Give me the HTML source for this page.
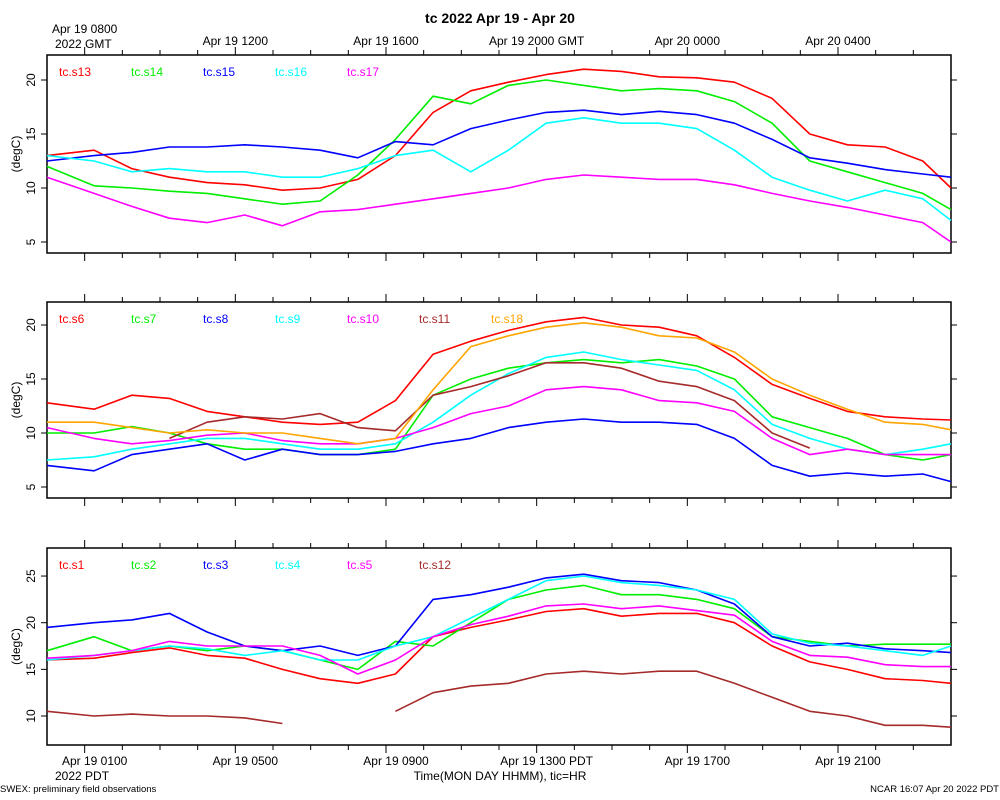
<!DOCTYPE html>
<html><head><meta charset="utf-8"><style>
body{margin:0;background:#fff;}
svg{display:block;font-family:"Liberation Sans",sans-serif;}
</style></head><body>
<svg id="chart" width="1000" height="800" viewBox="0 0 1000 800">
<text x="500" y="23" text-anchor="middle" font-size="14" font-weight="bold">tc 2022 Apr 19 - Apr 20</text>
<text x="0" y="792" font-size="9.5">SWEX: preliminary field observations</text>
<text x="999" y="792" font-size="9.5" text-anchor="end">NCAR 16:07 Apr 20 2022 PDT</text>
<text x="500" y="780" font-size="12" text-anchor="middle">Time(MON DAY HHMM), tic=HR</text>
<text x="55" y="780" font-size="12">2022 PDT</text>
<text x="55" y="48" font-size="12">2022 GMT</text>
</svg>
<script>
const T = [0,1.25,2.25,3.25,4.25,5.25,6.25,7.25,8.25,9.25,10.25,11.25,12.25,13.25,14.25,15.25,16.25,17.25,18.25,19.25,20.25,21.25,22.25,23.25,24];
const topLabels = ["Apr 19 0800","Apr 19 1200","Apr 19 1600","Apr 19 2000 GMT","Apr 20 0000","Apr 20 0400"];
const bottomLabels = ["Apr 19 0100","Apr 19 0500","Apr 19 0900","Apr 19 1300 PDT","Apr 19 1700","Apr 19 2100"];
const labelHours = [1,5,9,13,17,21];
// panel 1
const s13 = [13,13.5,11.8,11,10.5,10.3,9.8,10,10.8,13,17,19,19.8,20.5,21,20.8,20.3,20.2,19.8,18.3,15,14,13.8,12.5,10];
const s14 = [12,10.2,10,9.7,9.5,9,8.5,8.8,11.2,14.5,18.5,17.8,19.5,20,19.5,19,19.2,19,18,16,12.5,11.5,10.5,9.5,8];
const s15 = [12.5,13,13.3,13.8,13.8,14,13.8,13.5,12.8,14.3,14,15.5,16.3,17,17.2,16.8,17.1,16.8,16,14.5,12.8,12.3,11.7,11.3,11];
const s16 = [13,12.5,11.5,11.8,11.5,11.5,11,11,11.8,13,13.5,11.5,13.5,16,16.5,16,16,15.5,13.5,11,9.8,8.8,9.8,9,7];
const s17 = [11,9.5,8.3,7.2,6.8,7.5,6.5,7.8,8,8.5,9,9.5,10,10.8,11.2,11,10.8,10.8,10.3,9.5,8.8,8.2,7.5,6.8,5];
// panel 2
const s6 = [12.8,12.2,13.5,13.2,12,11.5,11,10.8,11,13,17.3,18.5,19.5,20.3,20.7,20,19.8,19,17,14.5,13.2,12,11.5,11.3,11.2];
const s7 = [10,10,10.6,10,9,8.5,8.5,8,8,8.5,13.5,15,16,16.5,16.8,16.5,16.8,16.2,15,11.5,10.5,9.5,8,7.5,8];
const s8 = [7,6.5,8,8.5,9,7.5,8.5,8,8,8.3,9,9.5,10.5,11,11.3,11,11,10.8,9.5,7,6,6.3,6,6.2,5.5];
const s9 = [7.5,7.8,8.5,9,9.5,9.5,9,8.5,8.5,9,11,13.5,15.5,17,17.5,16.8,16.3,15.8,14,10.8,9.5,8.5,8,8.5,9];
const s10 = [10.5,9.5,9,9.3,9.8,10,9.3,9,9,9.5,10.5,11.8,12.5,14,14.3,14,13,12.8,12,9.5,8,8.5,8,8,8];
const s11 = [null,null,null,9.5,11,11.5,11.3,11.8,10.5,10.2,13.5,14.3,15.3,16.5,16.5,16,14.8,14.3,13,10,8.6,null,null,null,null];
const s18 = [11,11,10.5,10,10.3,10,10,9.5,9,9.5,14,18,19,19.8,20.2,19.8,19,18.8,17.5,15,13.5,12.2,11,10.8,10.3];
// panel 3
const s1 = [16,16.2,16.8,17.3,16.5,16.2,15,14,13.5,14.5,18.5,19.5,20.3,21.2,21.5,20.7,21,21,20,17.5,15.8,15,14,13.8,13.5];
const s2 = [17,18.5,17,17.5,17,17.5,17,16,15,18,17.5,20,22.5,23.5,24,23,23,22.5,21.5,18.5,18,17.5,17.7,17.7,17.7];
const s3 = [19.5,20,20.3,21,19,17.5,17,17.5,16.5,17.5,22.5,23,23.8,24.8,25.2,24.5,24.3,23.5,22,18.5,17.5,17.8,17.2,17,16.8];
const s4 = [16,16.5,17,17.5,17.2,16.5,17,16,16,17.5,18.5,20.5,22.5,24.5,25,24.3,24,23.5,22.5,18.8,17.8,17.5,17,16.5,17.5];
const s5 = [16.2,16.5,17,18,17.5,17.5,17.5,16.5,14.5,16,18.5,19.8,20.7,21.8,22,21.5,21.8,21.3,20.8,18,16.5,16.3,15.5,15.3,15.3];
const s12 = [10.5,10,10.2,10,10,9.8,9.2,null,null,10.5,12.5,13.2,13.5,14.5,14.8,14.5,14.8,14.8,13.5,12,10.5,10,9,9,8.8];

const panels = [
 {top:55,bottom:253,yAt:(v)=>188-(v-10)*10.8,ticks:[5,10,15,20],topLabels:true,bottomLabels:false,
  series:[["tc.s13",s13,"#ff0000"],["tc.s14",s14,"#00ee00"],["tc.s15",s15,"#0000ff"],["tc.s16",s16,"#00ffff"],["tc.s17",s17,"#ff00ff"]]},
 {top:302,bottom:498,yAt:(v)=>433-(v-10)*10.8,ticks:[5,10,15,20],topLabels:false,bottomLabels:false,
  series:[["tc.s6",s6,"#ff0000"],["tc.s7",s7,"#00ee00"],["tc.s8",s8,"#0000ff"],["tc.s9",s9,"#00ffff"],["tc.s10",s10,"#ff00ff"],["tc.s11",s11,"#a52a2a"],["tc.s18",s18,"#ffa500"]]},
 {top:548,bottom:745,yAt:(v)=>716-(v-10)*9.33,ticks:[10,15,20,25],topLabels:false,bottomLabels:true,
  series:[["tc.s1",s1,"#ff0000"],["tc.s2",s2,"#00ee00"],["tc.s3",s3,"#0000ff"],["tc.s4",s4,"#00ffff"],["tc.s5",s5,"#ff00ff"],["tc.s12",s12,"#a52a2a"]]}
];
const X0=47,X1=951,H0=0,H1=24;
const xAt = h => X0+(h-H0)/(H1-H0)*(X1-X0);
const svg=document.getElementById('chart');
const NS="http://www.w3.org/2000/svg";
function mk(tag,attrs){const e=document.createElementNS(NS,tag);for(const k in attrs)e.setAttribute(k,attrs[k]);svg.appendChild(e);return e;}
panels.forEach((p,pi)=>{
  const frame=mk('rect',{x:X0,y:p.top,width:X1-X0,height:p.bottom-p.top,fill:'none',stroke:'#000','stroke-width':1.5});
  
  
  for(let h=1;h<24;h++){
    const major=labelHours.includes(h);const L=major?8:5;const x=xAt(h);
    const t1=mk('line',{x1:x,x2:x,y1:p.top,y2:p.top-L,stroke:'#000','stroke-width':1});
    
    
    const t2=mk('line',{x1:x,x2:x,y1:p.bottom,y2:p.bottom+L,stroke:'#000','stroke-width':1});
    
    
  }
  p.ticks.forEach(v=>{
    const y=p.yAt(v);
    const a=mk('line',{x1:X0-6,x2:X0,y1:y,y2:y,stroke:'#000'});
    
    
    const b=mk('line',{x1:X1,x2:X1+6,y1:y,y2:y,stroke:'#000'});
    
    
    const tx=mk('text',{x:0,y:0,'font-size':12,'text-anchor':'middle',transform:`translate(35,${y}) rotate(-90)`});
    tx.textContent=v;
    
    
  });
  const yl=mk('text',{x:0,y:0,'font-size':12,'text-anchor':'middle',transform:`translate(20,${(p.top+p.bottom)/2}) rotate(-90)`});
  yl.textContent='(degC)';
  
  
  p.series.forEach((s,si)=>{
    const [name,vals,col]=s;
    let d='';let pen=false;
    vals.forEach((v,i)=>{
      if(v===null){pen=false;return;}
      d+=(pen?'L':'M')+xAt(T[i]).toFixed(1)+','+p.yAt(v).toFixed(1);pen=true;
    });
    const path=mk('path',{d:d,fill:'none',stroke:col,'stroke-width':1.6,'stroke-linejoin':'round'});
    
    
    const lg=mk('text',{x:59+si*72,y:p.top+21,'font-size':12,fill:col});
    lg.textContent=name;
    
    
  });
  if(p.topLabels){
    labelHours.forEach((h,i)=>{
      const tx=mk('text',{x:xAt(h),y:i===0?33:45,'font-size':12,'text-anchor':'middle'});
      tx.textContent=topLabels[i];
      
      
    });
  }
  if(p.bottomLabels){
    labelHours.forEach((h,i)=>{
      const tx=mk('text',{x:xAt(h)+10,y:765,'font-size':12,'text-anchor':'middle'});
      tx.textContent=bottomLabels[i];
      
      
    });
  }
});
</script>
</body></html>
